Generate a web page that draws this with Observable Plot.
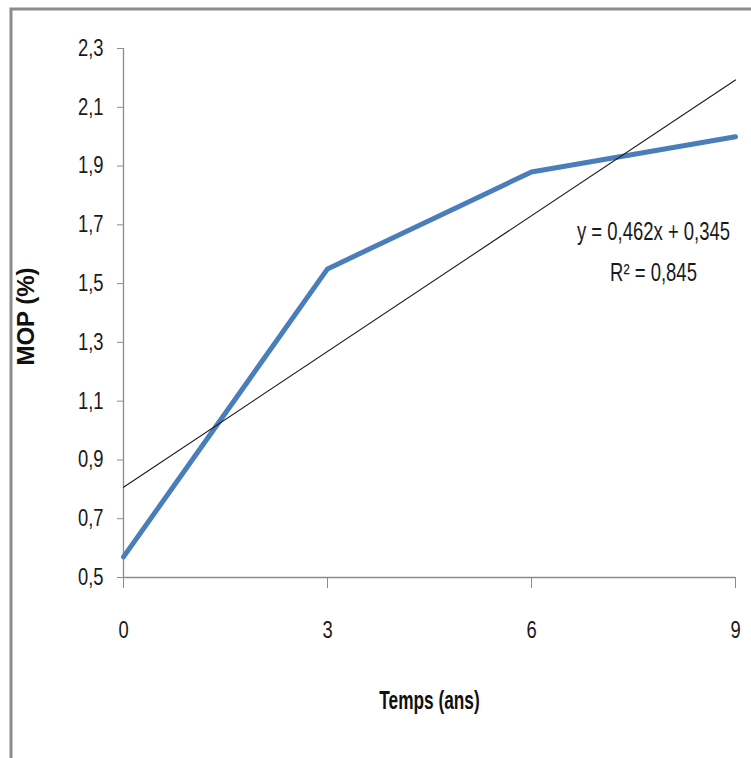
<!DOCTYPE html>
<html>
<head>
<meta charset="utf-8">
<script src="https://cdn.jsdelivr.net/npm/d3@7"></script>
<script src="https://cdn.jsdelivr.net/npm/@observablehq/plot@0.6"></script>
<style>
  html, body { margin: 0; padding: 0; background: #fff; overflow: hidden; }
  #chart { position: relative; width: 751px; height: 758px; }
</style>
</head>
<body>
<div id="chart"></div>
<script>
// Matière organique (MOP) au cours du temps
const temps = [0, 3, 6, 9];
const mop = [0.57, 1.55, 1.88, 2.0];
const yTicks = [0.5, 0.7, 0.9, 1.1, 1.3, 1.5, 1.7, 1.9, 2.1, 2.3];
const xTicks = [0, 3, 6, 9];
// Linear trend (fitted on point rank 1..4)
const slope = 0.462;
const intercept = 0.345;
const r2 = 0.845;

const fmt = (v, d) => v.toFixed(d).replace(".", ",");
const points = temps.map((t, i) => ({t, v: mop[i]}));
const trend = [temps[0], temps[temps.length - 1]].map(t => ({
  t, v: slope * (temps.indexOf(t) + 1) + intercept
}));
const eqText = `y = ${fmt(slope, 3)}x + ${fmt(intercept, 3)}`;
const r2Text = "R² = " + fmt(r2, 3);
const xTitle = "Temps (ans)";
const yTitle = "MOP (%)";

const axisColor = "#8c8c8c";
const sans = "'Liberation Sans', Arial, sans-serif";

const plot = Plot.plot({
  width: 751,
  height: 758,
  marginLeft: 123,
  marginRight: 16,
  marginTop: 48,
  marginBottom: 181,
  style: {fontFamily: sans, fontSize: "22px", color: "#1a1a1a", background: "#fff"},
  x: {domain: [0, 9]},
  y: {domain: [0.5, 2.3]},
  marks: [
    Plot.ruleX([0], {stroke: axisColor, strokeWidth: 1.3}),
    Plot.ruleY([0.5], {stroke: axisColor, strokeWidth: 1.3}),
    Plot.axisY({
      ticks: yTicks, tickSize: 6, tickPadding: 14, stroke: axisColor,
      tickFormat: d => fmt(d, 1), label: null
    }),
    Plot.axisX({
      ticks: xTicks, tickSize: 11, tickPadding: 33, stroke: axisColor,
      tickFormat: d => String(d), label: null
    }),
    Plot.line(points, {x: "t", y: "v", stroke: "#4a7ebb", strokeWidth: 5, strokeLinejoin: "round"}),
    Plot.line(trend, {x: "t", y: "v", stroke: "#1a1a1a", strokeWidth: 1.1}),
    Plot.text([eqText], {
      frameAnchor: "top-left", dx: 653 - 123, dy: 231 - 48, text: d => d,
      textAnchor: "middle", lineAnchor: "middle", fill: "#1a1a1a"
    }),
    Plot.text([r2Text], {
      frameAnchor: "top-left", dx: 653 - 123, dy: 272 - 48, text: d => d,
      textAnchor: "middle", lineAnchor: "middle", fill: "#1a1a1a"
    }),
    Plot.text([xTitle], {
      frameAnchor: "top-left", dx: 429 - 123, dy: 700 - 48, text: d => d,
      textAnchor: "middle", lineAnchor: "middle", fontWeight: "bold", fill: "#111"
    }),
    Plot.text([yTitle], {
      frameAnchor: "top-left", dx: 26 - 123, dy: 316 - 48, text: d => d, rotate: -90,
      textAnchor: "middle", lineAnchor: "middle", fontWeight: "bold", fill: "#111"
    })
  ]
});

// Font sizes and condensed glyph widths, set per text
const tickLabels = new Set([...yTicks.map(d => fmt(d, 1)), ...xTicks.map(String)]);
d3.select(plot).selectAll("text").each(function () {
  const s = this.textContent;
  let size = null, k = 1;
  if (tickLabels.has(s)) { size = 23; k = 0.8; }
  else if (s === eqText || s === r2Text) { size = 25; k = 0.74; }
  else if (s === xTitle) { size = 25; k = 0.69; }
  else if (s === yTitle) { size = 24; }
  if (size == null) return;
  this.style.fontSize = size + "px";
  if (k !== 1) {
    const t = this.getAttribute("transform") || "";
    this.setAttribute("transform", `${t} scale(${k},1)`);
  }
});

// Outer chart border, open to the right and bottom
d3.select(plot).insert("rect", ":first-child")
  .attr("x", 11).attr("y", 9).attr("width", 800).attr("height", 800)
  .attr("fill", "none").attr("stroke", axisColor).attr("stroke-width", 3);

document.getElementById("chart").appendChild(plot);
</script>
</body>
</html>
